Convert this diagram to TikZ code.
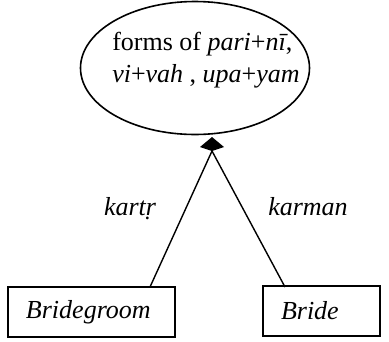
\documentclass[tikz,border=0pt]{standalone}
\usepackage{fontspec}
\setmainfont{Liberation Serif}
\usetikzlibrary{shapes.geometric}
\begin{document}
\begin{tikzpicture}[x=1pt,y=-1pt,
  every node/.style={font=\fontsize{26}{32}\selectfont},
  edge/.style={draw, line width=1.4pt},
  box/.style={draw, line width=1.4pt, minimum height=50pt, inner xsep=18pt,
    align=left, font=\fontsize{26}{32}\selectfont\itshape},
  role/.style={font=\fontsize{26}{32}\selectfont\itshape}]
  \useasboundingbox (0,0) rectangle (389,341);

  % the verb forms
  \node[ellipse, draw, line width=1.6pt, minimum width=229pt, minimum height=133pt,
        inner sep=0pt] (forms) at (195,68) {};
  \node[align=left, inner sep=0pt] (formstext) at (206,60)
    {forms of \textit{pari}+\textit{nī},\\ \textit{vi}+\textit{vah} , \textit{upa}+\textit{yam}};

  % participants
  \node[box, text width=131pt] (groom) at (91.5,312) {Bridegroom};
  \node[box, text width=81pt] (bride) at (321.5,311) {Bride};

  % filled kite head where both relations meet
  \coordinate (apex) at (212,151);
  \coordinate (tip) at (212,137);
  \fill (tip) -- (224,147) -- (apex) -- (200,147) -- cycle;

  \coordinate (groomtop) at (150,287);
  \coordinate (bridetop) at (285,287);
  \draw[edge] (groomtop) -- (apex);
  \draw[edge] (bridetop) -- (apex);

  % relation labels
  \node[role, anchor=base] (kartr) at (130,215) {kart\d{r}};
  \node[role, anchor=base] (karman) at (308,215) {karman};
\end{tikzpicture}
\end{document}
